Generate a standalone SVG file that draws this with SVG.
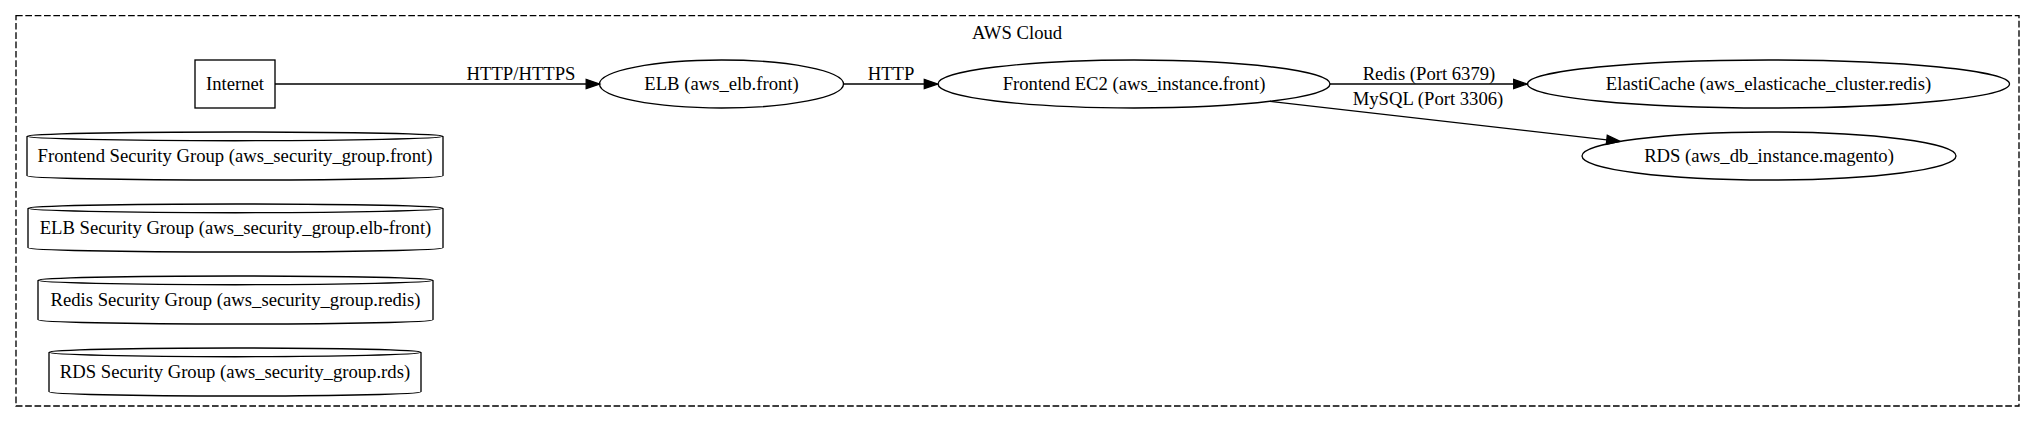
<svg xmlns="http://www.w3.org/2000/svg" width="2035" height="423" viewBox="0 0 2035 423">
<style>
text{font-family:"Liberation Serif","Times New Roman",Times,serif;font-size:18.67px;fill:#000;text-anchor:middle}
.shape{fill:none;stroke:#000;stroke-width:1.33}
.edge{fill:none;stroke:#000;stroke-width:1.33}
.head{fill:#000;stroke:#000;stroke-width:1.33}
</style>
<rect width="2035" height="423" fill="#fff"/>
<g id="cluster_aws">
<rect x="16" y="15.7" width="2003" height="390.3" fill="none" stroke="#000" stroke-width="1.33" stroke-dasharray="6.67,2.67"/>
<text x="1017" y="38.5">AWS Cloud</text>
</g>
<g id="edges">
<path class="edge" d="M275,84 L586.2,84"/>
<polygon class="head" points="599.5,84 586.2,88.67 586.2,79.33"/>
<text x="521" y="79.5">HTTP/HTTPS</text>
<path class="edge" d="M843.5,84 L924.3,84"/>
<polygon class="head" points="937.6,84 924.3,88.67 924.3,79.33"/>
<text x="891" y="79.5">HTTP</text>
<path class="edge" d="M1330,84 L1513.7,84"/>
<polygon class="head" points="1527,84 1513.7,88.67 1513.7,79.33"/>
<text x="1429" y="79.5">Redis (Port 6379)</text>
<path class="edge" d="M1270,101.3 L1606.8,139.8"/>
<polygon class="head" points="1620,141.3 1606.3,144.4 1607.3,135.2"/>
<text x="1428" y="105">MySQL (Port 3306)</text>
</g>
<g id="internet">
<rect class="shape" x="195" y="60" width="80" height="48"/>
<text x="235" y="89.6">Internet</text>
</g>
<g id="elb">
<ellipse class="shape" cx="721.5" cy="84" rx="122" ry="24"/>
<text x="721.5" y="89.6">ELB (aws_elb.front)</text>
</g>
<g id="ec2_front">
<ellipse class="shape" cx="1134" cy="84" rx="196" ry="24"/>
<text x="1134" y="89.6">Frontend EC2 (aws_instance.front)</text>
</g>
<g id="elasticache">
<ellipse class="shape" cx="1768.5" cy="84" rx="241" ry="24"/>
<text x="1768.5" y="89.6">ElastiCache (aws_elasticache_cluster.redis)</text>
</g>
<g id="rds">
<ellipse class="shape" cx="1769" cy="156" rx="187" ry="24"/>
<text x="1769" y="161.6">RDS (aws_db_instance.magento)</text>
</g>
<g id="sg_front">
<path class="shape" d="M27,136.36 A208,4.36 0 0 1 443,136.36 V175.64 A208,4.36 0 0 1 27,175.64 Z M27,136.36 A208,4.36 0 0 0 443,136.36"/>
<text x="235" y="161.6">Frontend Security Group (aws_security_group.front)</text>
</g>
<g id="sg_elb">
<path class="shape" d="M28,208.36 A207.5,4.36 0 0 1 443,208.36 V247.64 A207.5,4.36 0 0 1 28,247.64 Z M28,208.36 A207.5,4.36 0 0 0 443,208.36"/>
<text x="235.5" y="233.6">ELB Security Group (aws_security_group.elb-front)</text>
</g>
<g id="sg_redis">
<path class="shape" d="M38,280.36 A197.5,4.36 0 0 1 433,280.36 V319.64 A197.5,4.36 0 0 1 38,319.64 Z M38,280.36 A197.5,4.36 0 0 0 433,280.36"/>
<text x="235.5" y="305.6">Redis Security Group (aws_security_group.redis)</text>
</g>
<g id="sg_rds">
<path class="shape" d="M49,352.36 A186,4.36 0 0 1 421,352.36 V391.64 A186,4.36 0 0 1 49,391.64 Z M49,352.36 A186,4.36 0 0 0 421,352.36"/>
<text x="235" y="377.6">RDS Security Group (aws_security_group.rds)</text>
</g>
</svg>
